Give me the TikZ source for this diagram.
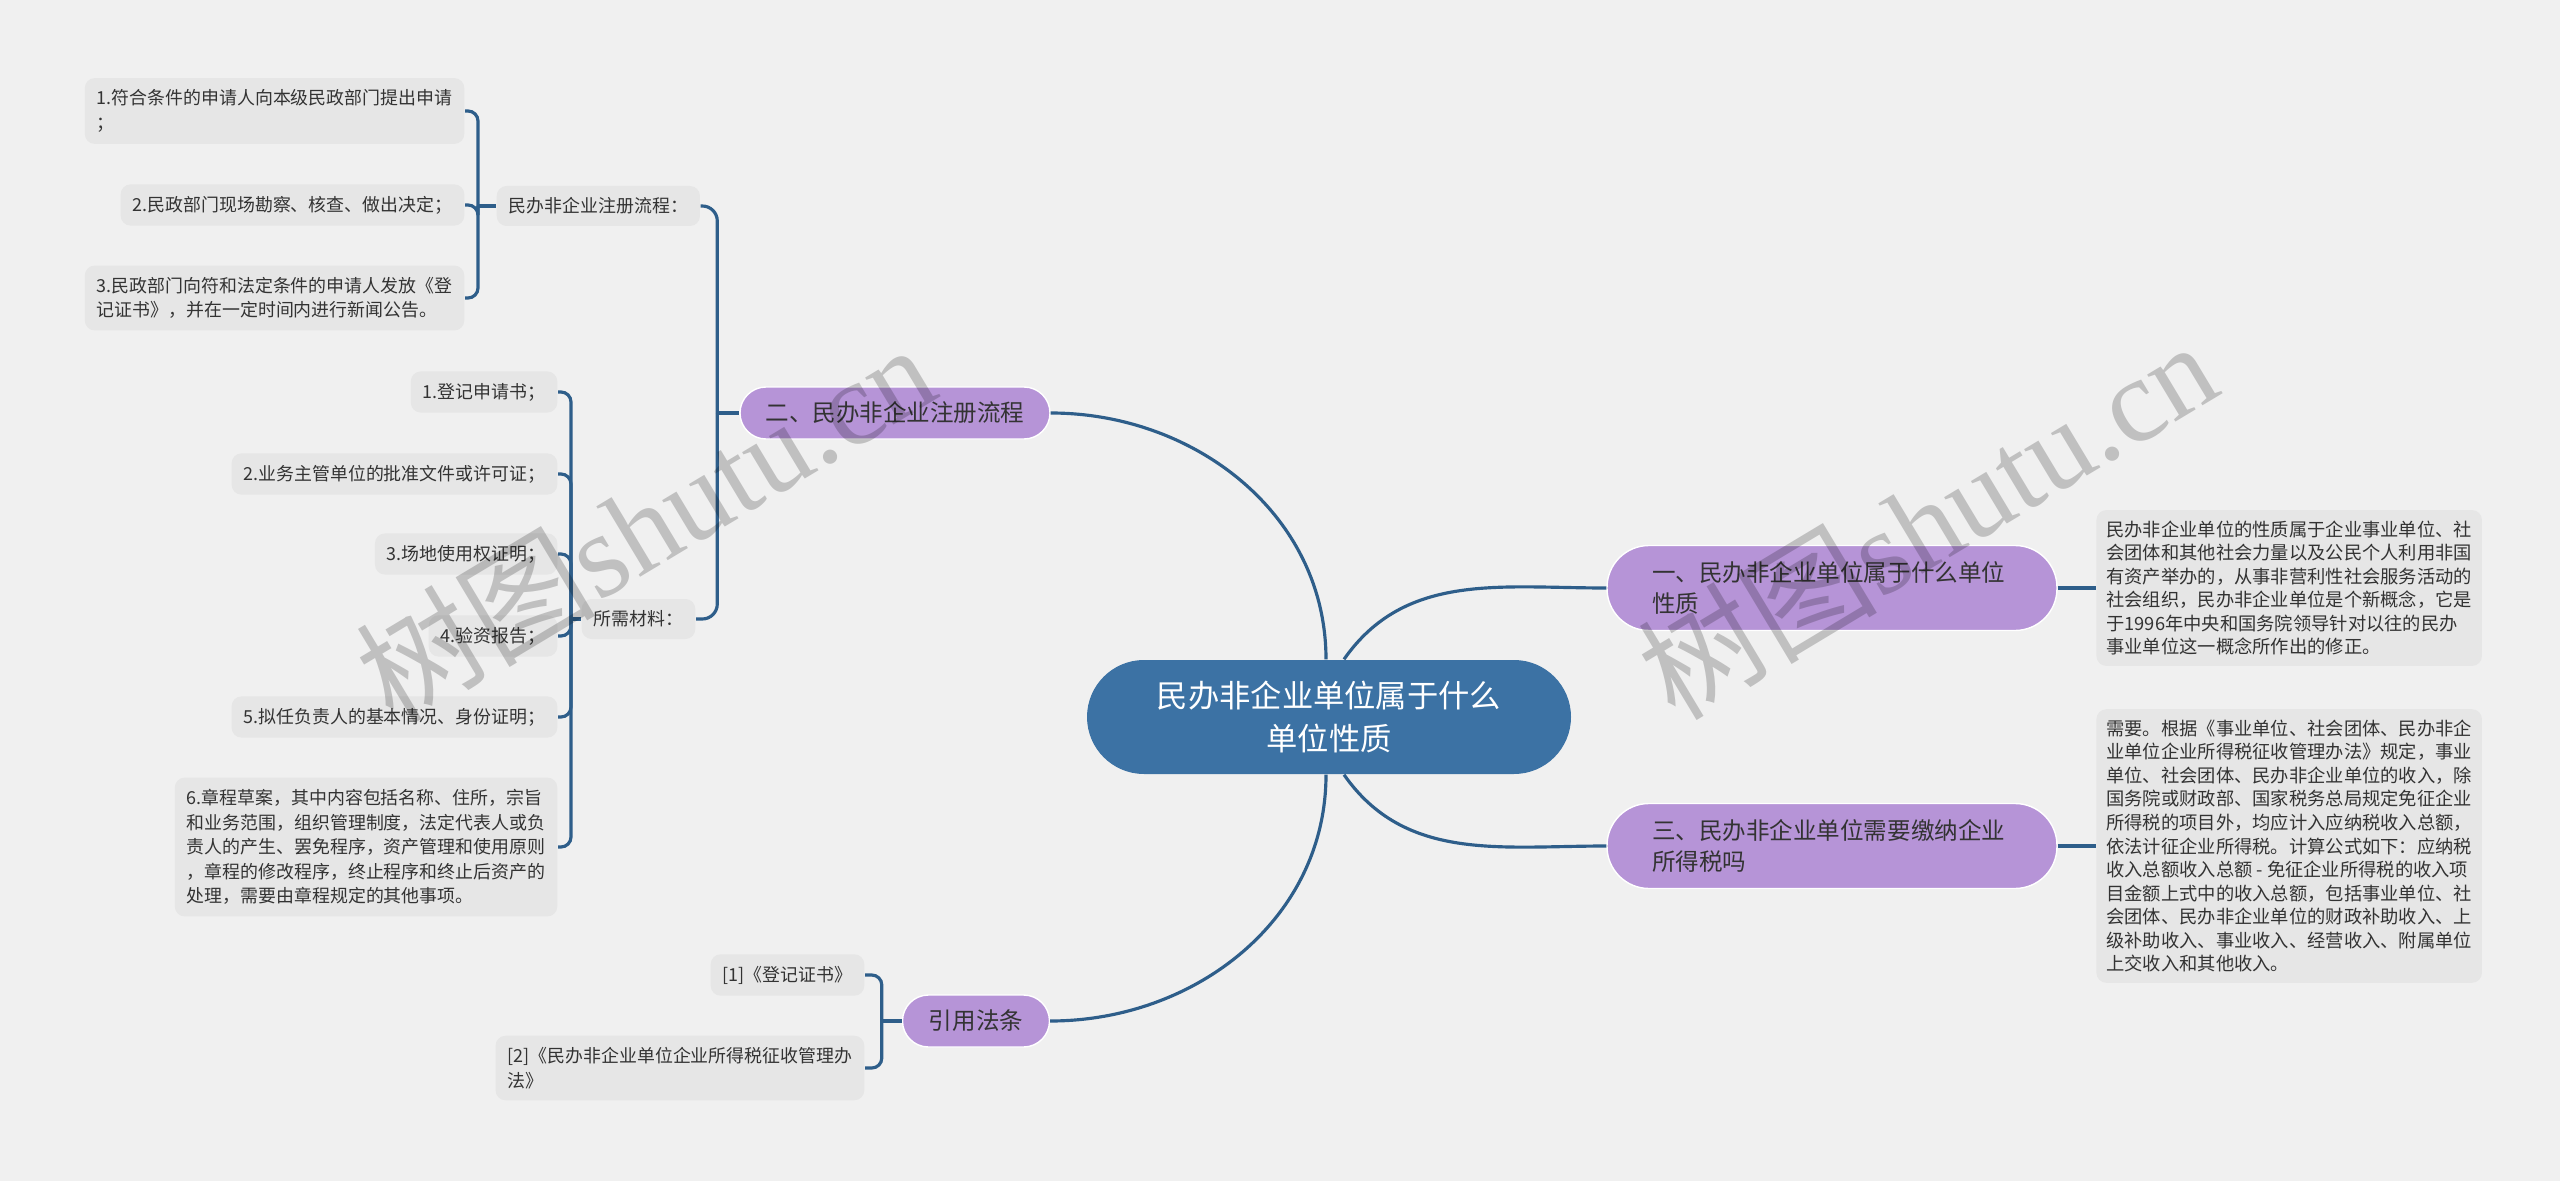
\documentclass[tikz,border=0pt]{standalone}
\usepackage{fontspec}
\setmainfont{Noto Sans CJK SC}
\newfontfamily\marklatin{Liberation Serif}
\usetikzlibrary{positioning}

\definecolor{bgcol}{HTML}{F0F0F0}
\definecolor{leafcol}{HTML}{E6E6E6}
\definecolor{topiccol}{HTML}{B694D7}
\definecolor{rootcol}{HTML}{3C72A4}
\definecolor{linkcol}{HTML}{2E5E8A}
\definecolor{inkcol}{HTML}{333333}

\begin{document}
\begin{tikzpicture}[
        leaf/.style={fill=leafcol, rounded corners=0.1cm, align=left, text=inkcol, inner xsep=0.12cm, inner ysep=3.3pt, minimum height=0.4cm, font=\fontsize{5.1}{7}\selectfont},
        note/.style={fill=leafcol, rounded corners=0.1cm, align=left, text=inkcol, inner xsep=0.1cm, inner ysep=3pt, font=\fontsize{5.2}{6.7}\selectfont},
        topic/.style={fill=topiccol, draw=white, line width=0.4pt, text=inkcol, minimum height=0.52cm, rounded corners=0.26cm, font=\fontsize{6.7}{8.8}\selectfont},
        bigtopic/.style={topic, minimum width=4.5cm, minimum height=0.85cm, rounded corners=0.42cm, text width=3.6cm, align=left},
        root/.style={fill=rootcol, text=white, minimum width=4.84cm, minimum height=1.14cm, rounded corners=0.57cm, align=center, font=\fontsize{8.9}{12.1}\selectfont},
        link/.style={draw=linkcol, line width=0.9pt},
        bracket/.style={link, rounded corners=0.1cm},
        watermark/.style={rotate=31, text=black, opacity=0.2, font=\fontsize{34}{34}\selectfont}
    ]
        \useasboundingbox (0,0) rectangle (25.6,-11.81);
        \fill[bgcol] (0,0) rectangle (25.6,-11.81);

        \node[root] (root) at (13.29,-7.17) {民办非企业单位属于什么\\单位性质};

        \node[topic, minimum width=3.1cm] (reg) at (8.95,-4.13) {二、民办非企业注册流程};
        \node[topic, minimum width=1.47cm] (law) at (9.76,-10.21) {引用法条};
        \node[bigtopic] (nature) at (18.32,-5.88) {一、民办非企业单位属于什么单位\\性质};
        \node[bigtopic] (tax) at (18.32,-8.46) {三、民办非企业单位需要缴纳企业\\所得税吗};

        \node[note, right=0.38cm of nature] (naturetext) {民办非企业单位的性质属于企业事业单位、社\\会团体和其他社会力量以及公民个人利用非国\\有资产举办的，从事非营利性社会服务活动的\\社会组织，民办非企业单位是个新概念，它是\\于1996年中央和国务院领导针对以往的民办\\事业单位这一概念所作出的修正。};
        \node[note, right=0.38cm of tax] (taxtext) {需要。根据《事业单位、社会团体、民办非企\\业单位企业所得税征收管理办法》规定，事业\\单位、社会团体、民办非企业单位的收入，除\\国务院或财政部、国家税务总局规定免征企业\\所得税的项目外，均应计入应纳税收入总额，\\依法计征企业所得税。计算公式如下：应纳税\\收入总额收入总额 - 免征企业所得税的收入项\\目金额上式中的收入总额，包括事业单位、社\\会团体、民办非企业单位的财政补助收入、上\\级补助收入、事业收入、经营收入、附属单位\\上交收入和其他收入。};

        % registration flow
        \node[leaf, anchor=west] (flow) at (4.96,-2.06) {民办非企业注册流程：};
        \node[leaf, anchor=east] (flow1) at (4.65,-1.11) {1.符合条件的申请人向本级民政部门提出申请\\；};
        \node[leaf, anchor=east] (flow2) at (4.65,-2.05) {2.民政部门现场勘察、核查、做出决定；};
        \node[leaf, anchor=east] (flow3) at (4.65,-2.98) {3.民政部门向符和法定条件的申请人发放《登\\记证书》，并在一定时间内进行新闻公告。};

        % materials
        \node[leaf, anchor=west] (stuff) at (5.81,-6.19) {所需材料：};
        \node[leaf, anchor=east] (stuff1) at (5.58,-3.92) {1.登记申请书；};
        \node[leaf, anchor=east] (stuff2) at (5.58,-4.74) {2.业务主管单位的批准文件或许可证；};
        \node[leaf, anchor=east] (stuff3) at (5.58,-5.54) {3.场地使用权证明；};
        \node[leaf, anchor=east] (stuff4) at (5.58,-6.36) {4.验资报告；};
        \node[leaf, anchor=east] (stuff5) at (5.58,-7.17) {5.拟任负责人的基本情况、身份证明；};
        \node[leaf, anchor=east] (stuff6) at (5.58,-8.47) {6.章程草案，其中内容包括名称、住所，宗旨\\和业务范围，组织管理制度，法定代表人或负\\责人的产生、罢免程序，资产管理和使用原则\\，章程的修改程序，终止程序和终止后资产的\\处理，需要由章程规定的其他事项。};

        % cited laws
        \node[leaf, anchor=east] (law1) at (8.65,-9.75) {[1]《登记证书》};
        \node[leaf, anchor=east] (law2) at (8.65,-10.68) {[2]《民办非企业单位企业所得税征收管理办\\法》};

        \coordinate[left=0.18cm of flow.west] (flowjoin);
        \coordinate[left=0.1cm of stuff.west] (stuffjoin);
        \coordinate[left=0.2cm of law.west] (lawjoin);
        \coordinate[left=0.22cm of reg.west] (regjoin);

        \foreach \leafname in {flow1,flow2,flow3}
            \draw[bracket] (flowjoin) |- (\leafname.east);
        \draw[link] (flowjoin) -- (flow.west);

        \foreach \leafname in {stuff1,stuff2,stuff3,stuff4,stuff5,stuff6}
            \draw[bracket] (stuffjoin) |- (\leafname.east);
        \draw[link] (stuffjoin) -- (stuff.west);

        \foreach \leafname in {law1,law2}
            \draw[bracket] (lawjoin) |- (\leafname.east);
        \draw[link] (lawjoin) -- (law.west);

        \foreach \subname in {flow,stuff}
            \draw[link, rounded corners=0.15cm] (regjoin) |- (\subname.east);
        \draw[link] (regjoin) -- (reg.west);

        \draw[link] ([xshift=-0.03cm]root.north) to[out=90,in=0] (reg.east);
        \draw[link] ([xshift=-0.03cm]root.south) to[out=-90,in=0] (law.east);
        \draw[link] ([xshift=0.15cm]root.north) to[out=55,in=180] (nature.west);
        \draw[link] ([xshift=0.15cm]root.south) to[out=-55,in=180] (tax.west);

        \draw[link] (nature.east) -- (naturetext.west);
        \draw[link] (tax.east) -- (taxtext.west);

        \node[watermark] (mark1) at (6.45,-5.22) {树图{\marklatin shutu.cn}};
        \node[watermark] (mark2) at (19.27,-5.19) {树图{\marklatin shutu.cn}};
    \end{tikzpicture}
\end{document}
